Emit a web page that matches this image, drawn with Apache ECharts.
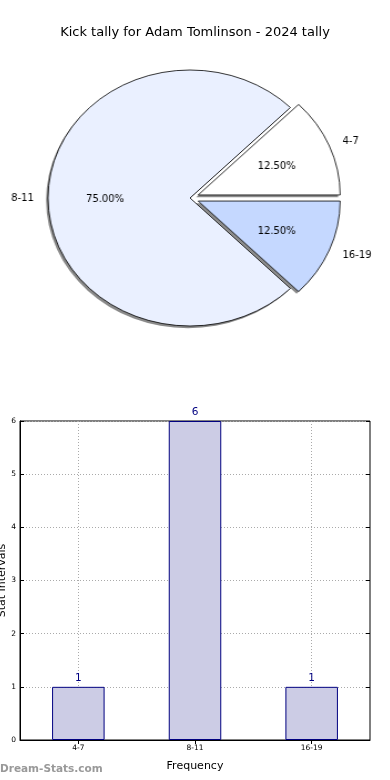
<!DOCTYPE html>
<html><head><meta charset="utf-8">
<script src="https://cdn.jsdelivr.net/npm/echarts@6/dist/echarts.min.js"></script>
<style>
html,body{margin:0;padding:0;background:#fff;overflow:hidden;width:390px;height:780px;}
#main{position:absolute;left:0;top:0;width:390px;height:780px;}
#pie{position:absolute;left:0;top:0;width:390px;height:400px;transform-origin:190px 198px;transform:scaleX(1.109);}
</style></head><body>
<div id="main"></div><div id="pie"></div>
<script>
const titleText = 'Kick tally for Adam Tomlinson - 2024 tally';
const categories = ['4-7', '8-11', '16-19'];
const counts = [1, 6, 1];
const pieColors = ['#FFFFFF', '#EAF0FF', '#C5D8FF'];
const exploded = [true, false, true];
const yAxisName = 'Stat Intervals';
const xAxisName = 'Frequency';
const watermark = 'Dream-Stats.com';

const FONT = 'DejaVu Sans';
const total = counts.reduce((a, b) => a + b, 0);

const main = echarts.init(document.getElementById('main'), null, {renderer: 'canvas'});
const dotted = {type: [1, 2], color: '#aaa', width: 1};
main.setOption({
  animation: false,
  backgroundColor: '#fff',
  title: {text: titleText, left: 'center', top: 21,
    textStyle: {fontFamily: FONT, fontSize: 13, fontWeight: 'normal', color: '#000'}},
  graphic: [{type: 'text', left: 0, top: 764,
    style: {text: watermark, fontFamily: FONT, fontSize: 10.5, fontWeight: 'bold', fill: '#999'}}],
  grid: {left: 20, right: 20, top: 421, bottom: 40, containLabel: false, outerBoundsMode: 'none',
    show: true, borderColor: '#000', borderWidth: 1, backgroundColor: '#fff'},
  xAxis: [{
    type: 'category', data: categories,
    axisLine: {show: true, lineStyle: {color: '#000', width: 1}},
    axisTick: {show: true, inside: true, alignWithLabel: true, length: 4, lineStyle: {color: '#000'}},
    axisLabel: {fontFamily: FONT, fontSize: 7.5, color: '#000', margin: 4},
    splitLine: {show: true, alignWithLabel: true, lineStyle: dotted},
    name: xAxisName, nameLocation: 'middle', nameGap: 21, nameMoveOverlap: false,
    nameTextStyle: {fontFamily: FONT, fontSize: 11, color: '#000'}
  }, {
    type: 'category', data: categories, position: 'top',
    axisLine: {show: false},
    axisTick: {show: true, inside: true, alignWithLabel: true, length: 4, lineStyle: {color: '#000'}},
    axisLabel: {show: false}, splitLine: {show: false}
  }],
  yAxis: [{
    type: 'value', min: 0, max: 6, interval: 1,
    axisLine: {show: true, lineStyle: {color: '#000', width: 1}},
    axisTick: {show: true, inside: true, length: 4, lineStyle: {color: '#000'}},
    axisLabel: {fontFamily: FONT, fontSize: 7.5, color: '#000', margin: 4},
    splitLine: {show: true, lineStyle: dotted},
    name: yAxisName, nameLocation: 'middle', nameGap: 12, nameMoveOverlap: false,
    nameTextStyle: {fontFamily: FONT, fontSize: 11, color: '#000'}
  }, {
    type: 'value', min: 0, max: 6, interval: 1, position: 'right',
    axisLine: {show: false},
    axisTick: {show: true, inside: true, length: 4, lineStyle: {color: '#000'}},
    axisLabel: {show: false}, splitLine: {show: false}
  }],
  series: [{
    type: 'bar', data: counts, barWidth: '45%',
    itemStyle: {color: '#CCCCE5', borderColor: '#000080', borderWidth: 1},
    label: {show: true, position: 'top', distance: 3, fontFamily: FONT, fontSize: 10.5, color: '#000080'},
    silent: true
  }]
});

const pie = echarts.init(document.getElementById('pie'), null, {renderer: 'canvas'});
const R = 128;
const labelFont = "'DejaVu Sans Condensed', 'DejaVu Sans'";
const common = {type: 'pie', radius: R, clockwise: false, startAngle: 0,
  selectedMode: 'multiple', selectedOffset: 8, avoidLabelOverlap: false, silent: true,
  emphasis: {disabled: true}};
pie.setOption({
  animation: false,
  series: [Object.assign({}, common, {
    // shadow layer
    center: [188.2, 200.2],
    data: categories.map((c, i) => ({name: c, value: counts[i], selected: exploded[i]})),
    itemStyle: {color: '#8a8a8a', borderWidth: 0},
    label: {show: false}, labelLine: {show: false}
  }), Object.assign({}, common, {
    center: [190, 198],
    data: categories.map((c, i) => ({name: c, value: counts[i], selected: exploded[i], itemStyle: {color: pieColors[i]}})),
    itemStyle: {borderColor: '#000', borderWidth: 0.8},
    label: {show: true, position: 'outside', formatter: '{b}', fontFamily: labelFont, fontSize: 10, color: '#000', distanceToLabelLine: 0},
    labelLine: {show: false, length: R * 0.1, length2: 0}
  }), Object.assign({}, common, {
    center: [190, 199], radius: R * 1.15,
    data: categories.map((c, i) => ({name: c, value: counts[i], selected: exploded[i]})),
    itemStyle: {color: 'rgba(0,0,0,0)', borderWidth: 0},
    label: {show: true, position: 'inside', fontFamily: labelFont, fontSize: 10, color: '#000',
      formatter: p => (p.value / total * 100).toFixed(2) + '%'},
    labelLine: {show: false}
  })]
});
</script>
</body></html>
